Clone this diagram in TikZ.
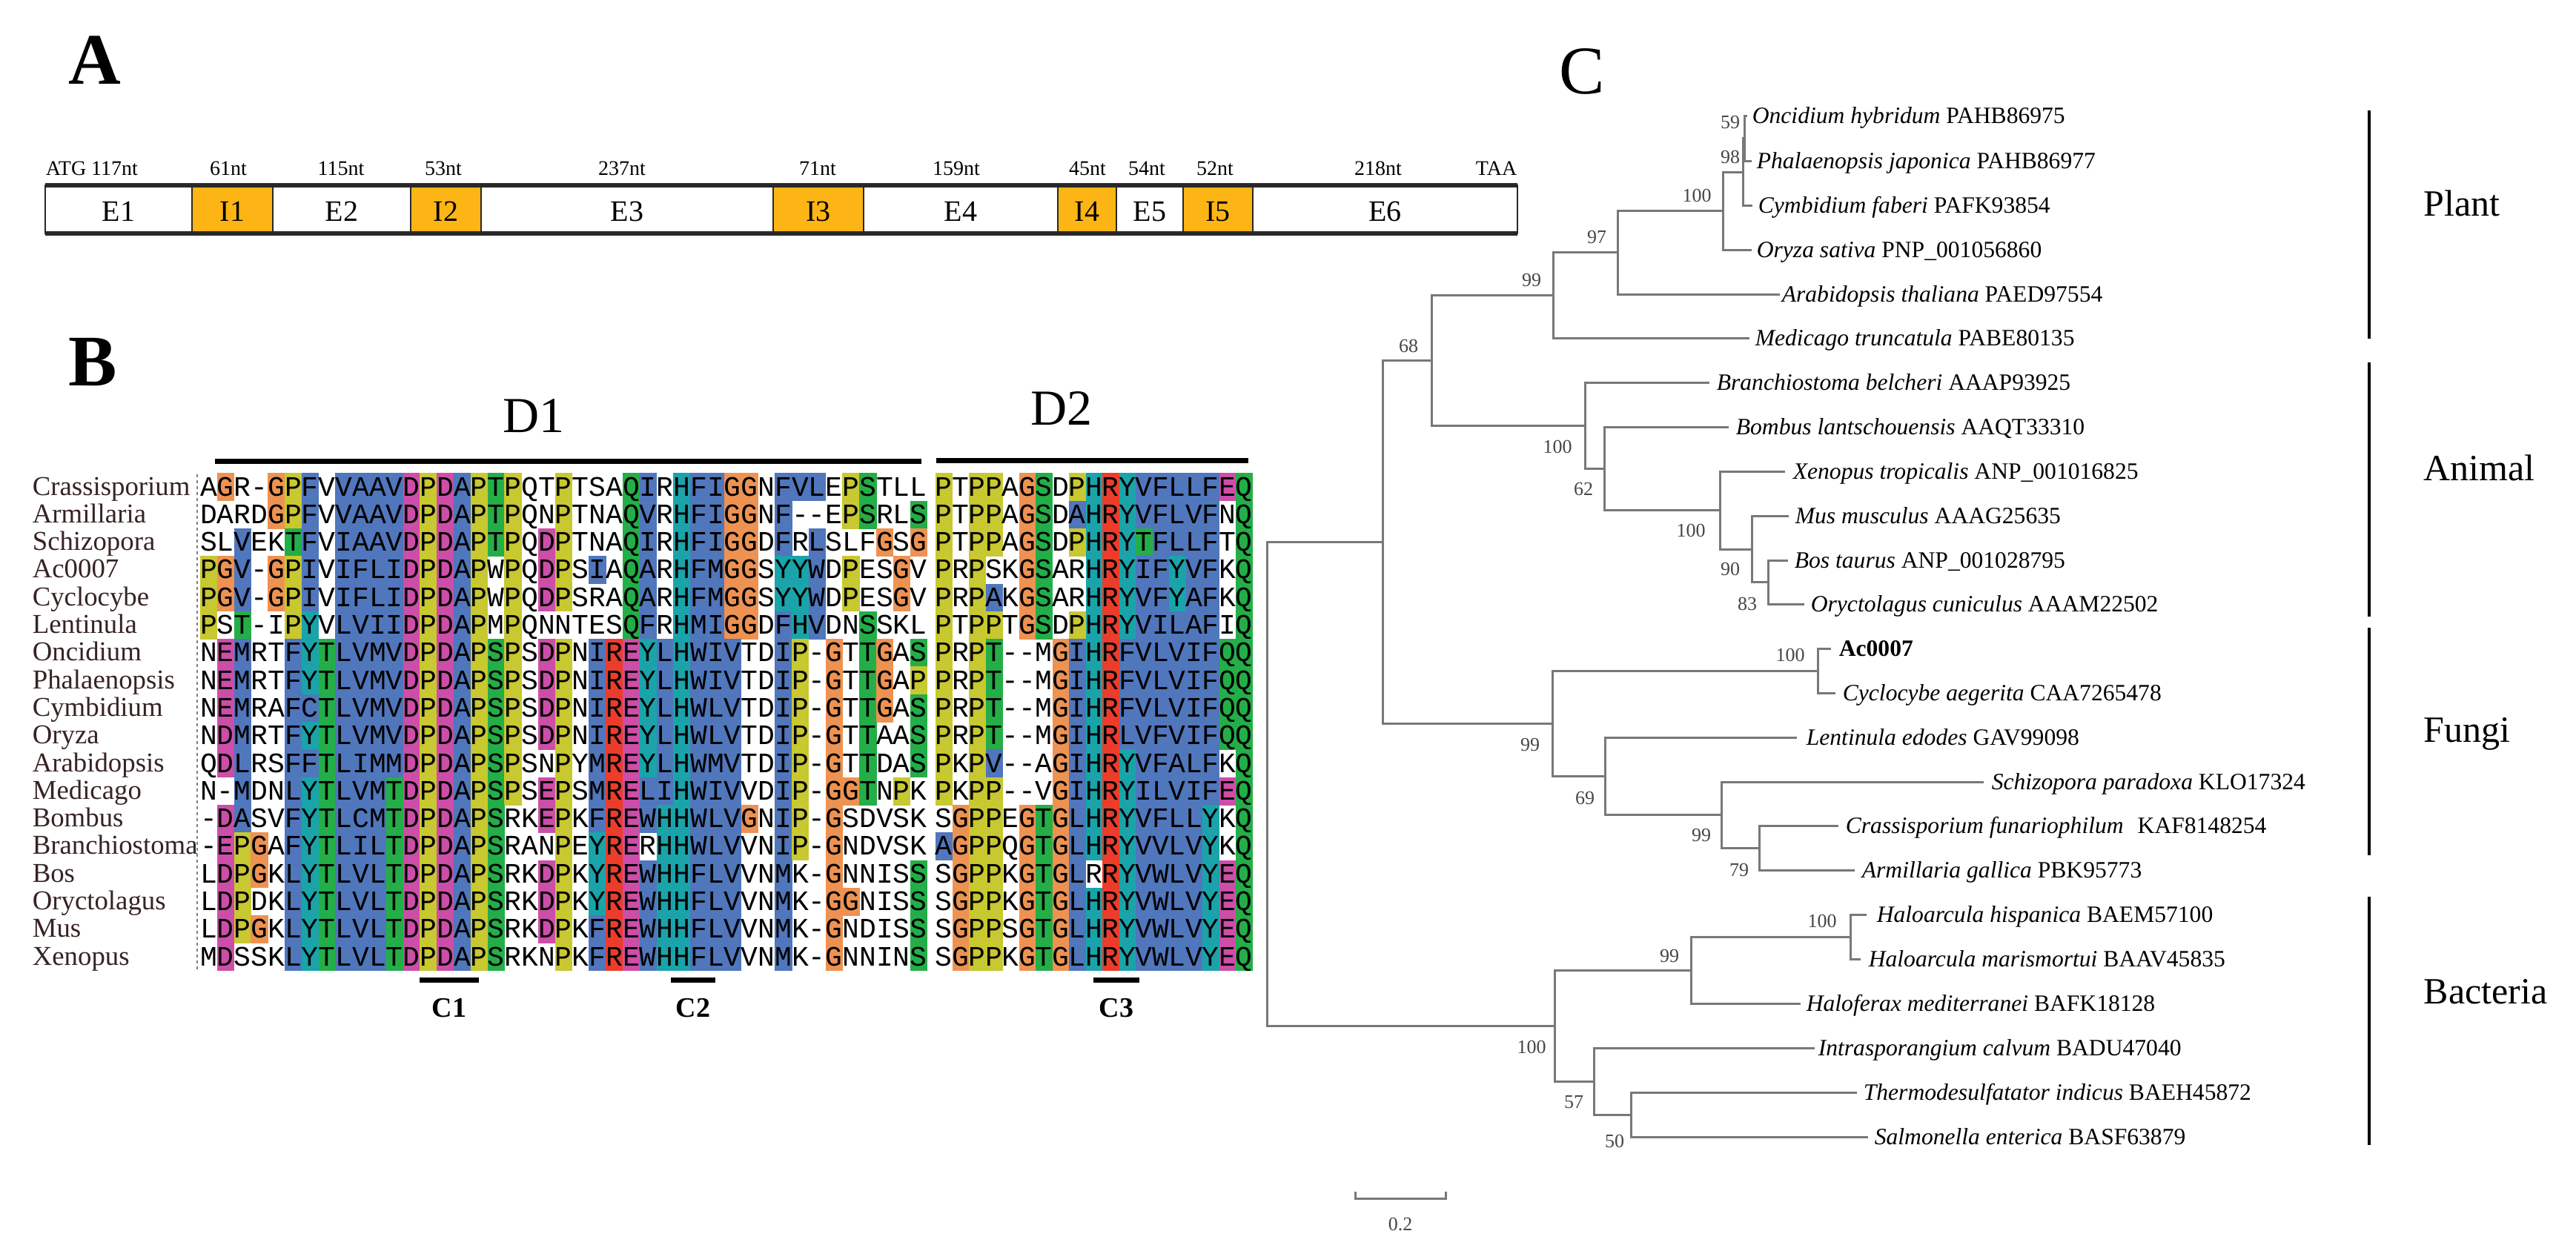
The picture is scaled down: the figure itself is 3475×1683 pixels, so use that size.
\documentclass[tikz,border=0pt]{standalone}
\usepackage{fontspec}
\setmainfont{Liberation Serif}
\newfontfamily\monof{Liberation Mono}
\definecolor{cblue}{RGB}{80,118,188}
\definecolor{cred}{RGB}{236,60,42}
\definecolor{cmag}{RGB}{204,78,168}
\definecolor{cgreen}{RGB}{36,174,72}
\definecolor{corange}{RGB}{238,146,82}
\definecolor{cyellow}{RGB}{200,200,48}
\definecolor{ccyan}{RGB}{26,164,170}
\definecolor{intronc}{RGB}{253,181,21}
\definecolor{namec}{RGB}{55,35,35}
\definecolor{treec}{RGB}{120,120,120}
\definecolor{bsc}{RGB}{70,70,70}
\definecolor{boxc}{RGB}{40,40,40}
\newcommand\fsz[1]{\fontsize{#1}{#1}\selectfont}
% residue classes
\def\setclr#1#2{\expandafter\def\csname clr#1\endcsname{#2}}
\setclr{A}{cblue}\setclr{I}{cblue}\setclr{L}{cblue}\setclr{M}{cblue}
\setclr{F}{cblue}\setclr{W}{cblue}\setclr{V}{cblue}\setclr{C}{cblue}
\setclr{K}{cred}\setclr{R}{cred}\setclr{E}{cmag}\setclr{D}{cmag}
\setclr{N}{cgreen}\setclr{Q}{cgreen}\setclr{S}{cgreen}\setclr{T}{cgreen}
\setclr{G}{corange}\setclr{P}{cyellow}\setclr{H}{ccyan}\setclr{Y}{ccyan}
% coloured residues per column
\def\setcs#1#2#3{\expandafter\def\csname s#1#2\endcsname{#3}}
\setcs{A}{0}{}\setcs{A}{1}{ED}\setcs{A}{2}{VMLAT}\setcs{A}{3}{}\setcs{A}{4}{}
\setcs{A}{5}{TFL}\setcs{A}{6}{FICY}\setcs{A}{7}{T}\setcs{A}{8}{VIL}\setcs{A}{9}{AFVIC}
\setcs{A}{10}{ALIM}\setcs{A}{11}{VIMT}\setcs{A}{12}{D}\setcs{A}{13}{}\setcs{A}{14}{D}
\setcs{A}{15}{A}\setcs{A}{16}{}\setcs{A}{17}{TS}\setcs{A}{18}{}\setcs{A}{19}{}
\setcs{A}{20}{DE}\setcs{A}{21}{}\setcs{A}{22}{}\setcs{A}{23}{IMFY}\setcs{A}{24}{R}
\setcs{A}{25}{QE}\setcs{A}{26}{IVAFLWY}\setcs{A}{27}{LIH}\setcs{A}{28}{H}\setcs{A}{29}{FMW}
\setcs{A}{30}{IML}\setcs{A}{31}{V}\setcs{A}{32}{}\setcs{A}{33}{}\setcs{A}{34}{FIMY}
\setcs{A}{35}{VYH}\setcs{A}{36}{LWV}\setcs{A}{37}{}\setcs{A}{38}{}\setcs{A}{39}{TS}
\setcs{A}{40}{}\setcs{A}{41}{}\setcs{A}{42}{S}
\setcs{B}{0}{A}\setcs{B}{1}{}\setcs{B}{2}{}\setcs{B}{3}{AVT}\setcs{B}{4}{}
\setcs{B}{5}{}\setcs{B}{6}{ST}\setcs{B}{7}{}\setcs{B}{8}{AIL}\setcs{B}{9}{H}
\setcs{B}{10}{R}\setcs{B}{11}{YFL}\setcs{B}{12}{VIT}\setcs{B}{13}{FILVW}\setcs{B}{14}{LVAY}
\setcs{B}{15}{LVAI}\setcs{B}{16}{FY}\setcs{B}{17}{QE}\setcs{B}{18}{Q}
\makeatletter
\newcount\alnci
\def\alnscan#1{\ifx#1\relax\else\alnres{#1}\advance\alnci by 1\relax\expandafter\alnscan\fi}
\def\alnres#1{%
  \edef\alnset{GP\csname s\alnblk\the\alnci\endcsname}%
  \pgfmathsetmacro\alnx{\alnxo+\the\alnci*\alnw}%
  \edef\alntmp{\noexpand\in@{#1}{\alnset}}\alntmp
  \ifin@
    \edef\alnfc{\csname clr#1\endcsname}%
    \fill[fill=\alnfc] (\alnx,\alny-18.65) rectangle ++(\alnw+0.6,37.9);
  \fi
  \node[res] (\alnblk\alnrid-\the\alnci) at ({\alnx+0.5*\alnw},\alny+12) {#1};
}
\makeatother
\newcommand\alnrow[4]{%
  \def\alnrid{#1}%
  \pgfmathsetmacro\alny{657+37.3*#1}%
  \node[nm] (nm#1) at (43,\alny+11) {#2};
  \def\alnblk{A}\def\alnxo{270}\def\alnw{22.8}\alnci=0 \alnscan#3\relax
  \def\alnblk{B}\def\alnxo{1262}\def\alnw{22.5}\alnci=0 \alnscan#4\relax
}
\newcommand\tip[5]{\coordinate (t#1) at (#2,#3);\node[tx] (l#1) at (#4,#3+10) {#5};}
\tikzset{
 res/.style={font=\monof\fsz{9.5}, inner sep=0pt, anchor=base},
 nm/.style={font=\fsz{9.2}, text=namec, inner sep=0pt, anchor=base west},
 tr/.style={draw=treec, line width=0.75pt},
 tx/.style={font=\fsz{7.9}, inner sep=0pt, anchor=base west},
 bs/.style={font=\fsz{6.5}, text=bsc, inner sep=0pt},
 grp/.style={draw=black, line width=1pt},
 gl/.style={font=\fsz{12.5}, inner sep=0pt, anchor=base west},
 seg/.style={draw=boxc, line width=0.7pt},
 el/.style={font=\fsz{10}, inner sep=0pt, anchor=base},
 ntl/.style={font=\fsz{7}, inner sep=0pt, anchor=base},
 big/.style={font=\fsz{24.5}\bfseries, inner sep=0pt, anchor=base west},
 dl/.style={font=\fsz{17}, inner sep=0pt, anchor=base},
 dbar/.style={draw=black, line width=1.75pt},
 cl/.style={font=\fsz{9.5}\bfseries, inner sep=0pt, anchor=base},
}
\begin{document}
\begin{tikzpicture}[x=0.25pt,y=-0.25pt]
\useasboundingbox (0,0) rectangle (3475,1683);
\fill[white] (0,0) rectangle (3475,1683);
% ---------- panel letters
\node[big] (pA) at (92,113) {A};
\node[big] (pB) at (92,520) {B};
\node[font=\fsz{23}, inner sep=0pt, anchor=base west] (pC) at (2103,126) {C};
% ---------- panel A: gene structure
\draw[seg, fill=white]   (61,250) rectangle (259,315);
\draw[seg, fill=intronc] (259,250) rectangle (368,315);
\draw[seg, fill=white]   (368,250) rectangle (554,315);
\draw[seg, fill=intronc] (554,250) rectangle (649,315);
\draw[seg, fill=white]   (649,250) rectangle (1043,315);
\draw[seg, fill=intronc] (1043,250) rectangle (1165,315);
\draw[seg, fill=white]   (1165,250) rectangle (1427,315);
\draw[seg, fill=intronc] (1427,250) rectangle (1506,315);
\draw[seg, fill=white]   (1506,250) rectangle (1596,315);
\draw[seg, fill=intronc] (1596,250) rectangle (1690,315);
\draw[seg, fill=white]   (1690,250) rectangle (2047,315);
\coordinate (bxa) at (61,250); \coordinate (bxb) at (2047,250);
\coordinate (bxc) at (61,315); \coordinate (bxd) at (2047,315);
\draw[draw=boxc, line width=1.3pt] (bxa) -- (bxb);
\draw[draw=boxc, line width=1.3pt] (bxc) -- (bxd);
\node[el] (sE1) at (160,298) {E1};
\node[el] (sI1) at (313.5,298) {I1};
\node[el] (sE2) at (461,298) {E2};
\node[el] (sI2) at (601.5,298) {I2};
\node[el] (sE3) at (846,298) {E3};
\node[el] (sI3) at (1104,298) {I3};
\node[el] (sE4) at (1296,298) {E4};
\node[el] (sI4) at (1466.5,298) {I4};
\node[el] (sE5) at (1551,298) {E5};
\node[el] (sI5) at (1643,298) {I5};
\node[el] (sE6) at (1868.5,298) {E6};
\node[ntl, anchor=base west] (nt1) at (61,236) {ATG 117nt};
\node[ntl] (nt2) at (308,236) {61nt};
\node[ntl] (nt3) at (460,236) {115nt};
\node[ntl] (nt4) at (598,236) {53nt};
\node[ntl] (nt5) at (839,236) {237nt};
\node[ntl] (nt6) at (1103,236) {71nt};
\node[ntl] (nt7) at (1290,236) {159nt};
\node[ntl] (nt8) at (1467,236) {45nt};
\node[ntl] (nt9) at (1547,236) {54nt};
\node[ntl] (nt10) at (1639,236) {52nt};
\node[ntl] (nt11) at (1859,236) {218nt};
\node[ntl, anchor=base east] (nt12) at (2047,236) {TAA};
% ---------- panel B: alignment
\node[dl] (D1) at (720,583) {D1};
\node[dl] (D2) at (1432,573) {D2};
\coordinate (d1a) at (290,622); \coordinate (d1b) at (1243,622);
\coordinate (d2a) at (1263,621); \coordinate (d2b) at (1684,621);
\draw[dbar] (d1a) -- (d1b);
\draw[dbar] (d2a) -- (d2b);
\alnrow{0}{Crassisporium}{AGR-GPFVVAAVDPDAPTPQTPTSAQIRHFIGGNFVLEPSTLL}{PTPPAGSDPHRYVFLLFEQ}
\alnrow{1}{Armillaria}{DARDGPFVVAAVDPDAPTPQNPTNAQVRHFIGGNF--EPSRLS}{PTPPAGSDAHRYVFLVFNQ}
\alnrow{2}{Schizopora}{SLVEKTFVIAAVDPDAPTPQDPTNAQIRHFIGGDFRLSLFGSG}{PTPPAGSDPHRYTFLLFTQ}
\alnrow{3}{Ac0007}{PGV-GPIVIFLIDPDAPWPQDPSIAQARHFMGGSYYWDPESGV}{PRPSKGSARHRYIFYVFKQ}
\alnrow{4}{Cyclocybe}{PGV-GPIVIFLIDPDAPWPQDPSRAQARHFMGGSYYWDPESGV}{PRPAKGSARHRYVFYAFKQ}
\alnrow{5}{Lentinula}{PST-IPYVLVIIDPDAPMPQNNTESQFRHMIGGDFHVDNSSKL}{PTPPTGSDPHRYVILAFIQ}
\alnrow{6}{Oncidium}{NEMRTFYTLVMVDPDAPSPSDPNIREYLHWIVTDIP-GTTGAS}{PRPT--MGIHRFVLVIFQQ}
\alnrow{7}{Phalaenopsis}{NEMRTFYTLVMVDPDAPSPSDPNIREYLHWIVTDIP-GTTGAP}{PRPT--MGIHRFVLVIFQQ}
\alnrow{8}{Cymbidium}{NEMRAFCTLVMVDPDAPSPSDPNIREYLHWLVTDIP-GTTGAS}{PRPT--MGIHRFVLVIFQQ}
\alnrow{9}{Oryza}{NDMRTFYTLVMVDPDAPSPSDPNIREYLHWLVTDIP-GTTAAS}{PRPT--MGIHRLVFVIFQQ}
\alnrow{10}{Arabidopsis}{QDLRSFFTLIMMDPDAPSPSNPYMREYLHWMVTDIP-GTTDAS}{PKPV--AGIHRYVFALFKQ}
\alnrow{11}{Medicago}{N-MDNLYTLVMTDPDAPSPSEPSMRELIHWIVVDIP-GGTNPK}{PKPP--VGIHRYILVIFEQ}
\alnrow{12}{Bombus}{-DASVFYTLCMTDPDAPSRKEPKFREWHHWLVGNIP-GSDVSK}{SGPPEGTGLHRYVFLLYKQ}
\alnrow{13}{Branchiostoma}{-EPGAFYTLILTDPDAPSRANPEYRERHHWLVVNIP-GNDVSK}{AGPPQGTGLHRYVVLVYKQ}
\alnrow{14}{Bos}{LDPGKLYTLVLTDPDAPSRKDPKYREWHHFLVVNMK-GNNISS}{SGPPKGTGLRRYVWLVYEQ}
\alnrow{15}{Oryctolagus}{LDPDKLYTLVLTDPDAPSRKDPKYREWHHFLVVNMK-GGNISS}{SGPPKGTGLHRYVWLVYEQ}
\alnrow{16}{Mus}{LDPGKLYTLVLTDPDAPSRKDPKFREWHHFLVVNMK-GNDISS}{SGPPSGTGLHRYVWLVYEQ}
\alnrow{17}{Xenopus}{MDSSKLYTLVLTDPDAPSRKNPKFREWHHFLVVNMK-GNNINS}{SGPPKGTGLHRYVWLVYEQ}
\coordinate (al1) at (266,640); \coordinate (al2) at (266,1310);
\draw[gray, line width=0.3pt, dash pattern=on 1pt off 1pt] (al1) -- (al2);
% conserved regions
\coordinate (c1a) at (566,1322); \coordinate (c1b) at (646,1322);
\coordinate (c2a) at (905,1322); \coordinate (c2b) at (965,1322);
\coordinate (c3a) at (1475,1322); \coordinate (c3b) at (1537,1322);
\draw[dbar] (c1a) -- (c1b);
\draw[dbar] (c2a) -- (c2b);
\draw[dbar] (c3a) -- (c3b);
\node[cl] (C1) at (606,1372) {C1};
\node[cl] (C2) at (935,1372) {C2};
\node[cl] (C3) at (1506,1372) {C3};
% ---------- panel C: tree
\tip{Onc}{2357}{156}{2363}{\textit{Oncidium hybridum} PAHB86975}
\tip{Pha}{2363}{217}{2369}{\textit{Phalaenopsis japonica} PAHB86977}
\tip{Cym}{2364}{277}{2371}{\textit{Cymbidium faberi} PAFK93854}
\tip{Ory}{2363}{337}{2369}{\textit{Oryza sativa} PNP\_001056860}
\tip{Ara}{2401}{397}{2403}{\textit{Arabidopsis thaliana} PAED97554}
\tip{Med}{2360}{456}{2367}{\textit{Medicago truncatula} PABE80135}
\tip{Bra}{2306}{516}{2315}{\textit{Branchiostoma belcheri} AAAP93925}
\tip{Bom}{2332}{576}{2341}{\textit{Bombus lantschouensis} AAQT33310}
\tip{Xen}{2408}{636}{2418}{\textit{Xenopus tropicalis} ANP\_001016825}
\tip{Mus}{2413}{696}{2421}{\textit{Mus musculus} AAAG25635}
\tip{Bos}{2412}{756}{2420}{\textit{Bos taurus} ANP\_001028795}
\tip{Oyc}{2434}{815}{2442}{\textit{Oryctolagus cuniculus} AAAM22502}
\tip{Ac}{2470}{875}{2480}{\textbf{Ac0007}}
\tip{Cyc}{2476}{935}{2485}{\textit{Cyclocybe aegerita} CAA7265478}
\tip{Len}{2424}{995}{2436}{\textit{Lentinula edodes} GAV99098}
\tip{Sch}{2676}{1055}{2686}{\textit{Schizopora paradoxa} KLO17324}
\tip{Cra}{2480}{1114}{2489}{\textit{Crassisporium funariophilum}\hspace{0.6em}KAF8148254}
\tip{Arm}{2502}{1174}{2511}{\textit{Armillaria gallica} PBK95773}
\tip{Hhi}{2518}{1234}{2531}{\textit{Haloarcula hispanica} BAEM57100}
\tip{Hma}{2510}{1294}{2520}{\textit{Haloarcula marismortui} BAAV45835}
\tip{Hfx}{2429}{1354}{2436}{\textit{Haloferax mediterranei} BAFK18128}
\tip{Int}{2448}{1414}{2452}{\textit{Intrasporangium calvum} BADU47040}
\tip{The}{2505}{1474}{2513}{\textit{Thermodesulfatator indicus} BAEH45872}
\tip{Sal}{2520}{1534}{2528}{\textit{Salmonella enterica} BASF63879}
\coordinate (n59) at (2353,186.5);
\coordinate (n98) at (2351,232);
\coordinate (n100p) at (2324,284.5);
\coordinate (n97) at (2182,340.5);
\coordinate (n99p) at (2095,398);
\coordinate (n83) at (2385,785.5);
\coordinate (n90) at (2363,741);
\coordinate (n100v) at (2320,688.5);
\coordinate (n62) at (2164,632);
\coordinate (n100a) at (2138,574);
\coordinate (n68) at (1931,486);
\coordinate (nAC) at (2452,905);
\coordinate (n79) at (2373,1144);
\coordinate (n99s) at (2322,1099.5);
\coordinate (n69) at (2165,1047);
\coordinate (n99f) at (2094,976);
\coordinate (nU) at (1865,731);
\coordinate (nHH) at (2496,1264);
\coordinate (n99b) at (2281,1309);
\coordinate (n50) at (2200,1504);
\coordinate (n57) at (2150,1459);
\coordinate (n100b) at (2097,1384);
\coordinate (nR) at (1709,1057.5);
\draw[tr] (n59) |- (tOnc); \draw[tr] (n59) |- (tPha);
\draw[tr] (n98) |- (n59); \draw[tr] (n98) |- (tCym);
\draw[tr] (n100p) |- (n98); \draw[tr] (n100p) |- (tOry);
\draw[tr] (n97) |- (n100p); \draw[tr] (n97) |- (tAra);
\draw[tr] (n99p) |- (n97); \draw[tr] (n99p) |- (tMed);
\draw[tr] (n68) |- (n99p); \draw[tr] (n68) |- (n100a);
\draw[tr] (n100a) |- (tBra); \draw[tr] (n100a) |- (n62);
\draw[tr] (n62) |- (tBom); \draw[tr] (n62) |- (n100v);
\draw[tr] (n100v) |- (tXen); \draw[tr] (n100v) |- (n90);
\draw[tr] (n90) |- (tMus); \draw[tr] (n90) |- (n83);
\draw[tr] (n83) |- (tBos); \draw[tr] (n83) |- (tOyc);
\draw[tr] (nAC) |- (tAc); \draw[tr] (nAC) |- (tCyc);
\draw[tr] (n79) |- (tCra); \draw[tr] (n79) |- (tArm);
\draw[tr] (n99s) |- (tSch); \draw[tr] (n99s) |- (n79);
\draw[tr] (n69) |- (tLen); \draw[tr] (n69) |- (n99s);
\draw[tr] (n99f) |- (nAC); \draw[tr] (n99f) |- (n69);
\draw[tr] (nU) |- (n68); \draw[tr] (nU) |- (n99f);
\draw[tr] (nHH) |- (tHhi); \draw[tr] (nHH) |- (tHma);
\draw[tr] (n99b) |- (nHH); \draw[tr] (n99b) |- (tHfx);
\draw[tr] (n50) |- (tThe); \draw[tr] (n50) |- (tSal);
\draw[tr] (n57) |- (tInt); \draw[tr] (n57) |- (n50);
\draw[tr] (n100b) |- (n99b); \draw[tr] (n100b) |- (n57);
\draw[tr] (nR) |- (nU); \draw[tr] (nR) |- (n100b);
% bootstrap values
\node[bs] (b59) at (2334,165) {59};
\node[bs] (b98) at (2334,212) {98};
\node[bs] (b100p) at (2289,264) {100};
\node[bs] (b97) at (2154,320) {97};
\node[bs] (b99p) at (2066,378) {99};
\node[bs] (b68) at (1900,467) {68};
\node[bs] (b100a) at (2101,603) {100};
\node[bs] (b62) at (2136,660) {62};
\node[bs] (b100v) at (2281,716) {100};
\node[bs] (b90) at (2334,768) {90};
\node[bs] (b83) at (2357,815) {83};
\node[bs] (b100f) at (2415,884) {100};
\node[bs] (b99f) at (2064,1005) {99};
\node[bs] (b69) at (2138,1077) {69};
\node[bs] (b99s) at (2295,1127) {99};
\node[bs] (b79) at (2346,1174) {79};
\node[bs] (b100h) at (2458,1243) {100};
\node[bs] (b99b) at (2252,1290) {99};
\node[bs] (b100b) at (2066,1413) {100};
\node[bs] (b57) at (2123,1487) {57};
\node[bs] (b50) at (2178,1540) {50};
% group bars
\coordinate (gPa) at (3196,149);  \coordinate (gPb) at (3196,457);
\coordinate (gAa) at (3196,489);  \coordinate (gAb) at (3196,832);
\coordinate (gFa) at (3196,847);  \coordinate (gFb) at (3196,1154);
\coordinate (gBa) at (3196,1210); \coordinate (gBb) at (3196,1545);
\draw[grp] (gPa) -- (gPb);
\draw[grp] (gAa) -- (gAb);
\draw[grp] (gFa) -- (gFb);
\draw[grp] (gBa) -- (gBb);
\node[gl] (gP) at (3269,291) {Plant};
\node[gl] (gA) at (3269,648) {Animal};
\node[gl] (gF) at (3269,1001) {Fungi};
\node[gl] (gB) at (3269,1354) {Bacteria};
% scale bar
\coordinate (sb1) at (1828,1617); \coordinate (sb2) at (1950,1617);
\draw[tr] (1828,1608) -- (sb1) -- (sb2) -- (1950,1608);
\node[bs] (sbl) at (1889,1652) {0.2};
\end{tikzpicture}
\end{document}
